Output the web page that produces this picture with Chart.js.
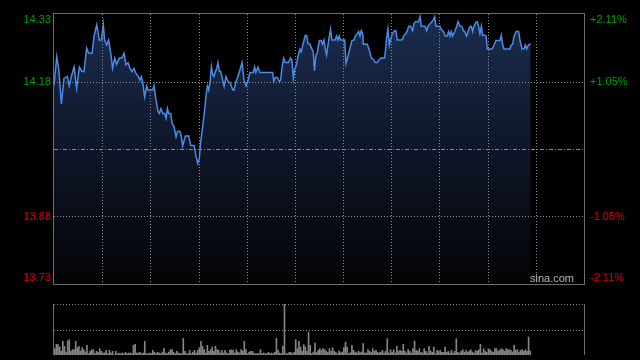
<!DOCTYPE html>
<html>
<head>
<meta charset="utf-8">
<script src="https://cdn.jsdelivr.net/npm/chart.js@4"></script>
<style>
  html, body { margin: 0; padding: 0; background: #000; }
  #wrap { position: relative; width: 640px; height: 360px; }
  canvas { position: absolute; left: 0; }
</style>
</head>
<body>
<div id="wrap">
  <canvas id="priceChart" width="640" height="290" style="top:0"></canvas>
  <canvas id="volChart" width="640" height="70" style="top:290px"></canvas>
</div>
<script>
// intraday minutes since open (HK session, 330 min) and prices
const priceTimes = [
  0, 1.7, 2.9, 4.6, 6.2, 8.3, 9.5, 10.8, 12.5, 14.1, 15.8, 17.4, 18.7, 20.3, 21.6, 23.7, 24.9, 26.6, 28.2, 29.5,
  30.7, 31.5, 32.8, 34.0, 35.3, 36.5, 37.8, 39.0, 40.7, 42.3, 43.6, 44.8, 46.1, 47.3, 48.6, 49.8, 51.0, 52.3, 53.5, 54.4,
  55.2, 56.4, 57.7, 58.5,
  59.8, 61.5, 62.3, 63.5, 64.8, 65.6, 66.6, 67.7, 68.9, 69.8, 70.6, 71.4, 72.7, 73.5, 74.7, 76.0, 76.8, 78.5, 79.3, 80.1,
  81.8, 83.9, 85.1, 87.2, 88.4, 89.5, 90.5, 91.3, 92.6, 93.8, 94.7, 95.5, 96.3, 97.2, 98.0, 98.8, 99.6, 100.5, 101.3, 102.1,
  103.0, 103.8, 105.0, 105.9, 107.1, 108.4, 109.6, 110.4, 111.3, 112.1, 113.3, 114.6, 115.8, 117.1, 118.3,
  119.5, 120.7, 122.0, 124.1, 124.9, 125.7, 127.0, 128.2, 136.1, 136.9, 137.8, 139.0, 140.3, 141.1, 141.9, 143.0, 144.0, 146.1, 147.3, 148.1,
  149.0, 149.8, 150.6, 151.9, 153.1, 153.9, 155.2, 156.4, 157.3, 158.1, 159.3, 160.6, 161.4, 162.2, 163.1, 163.9, 165.2, 166.4, 167.2, 168.1,
  168.9, 169.7, 171.0, 172.2, 173.0, 174.3, 175.1, 175.9, 176.8, 177.6, 178.4,
  179.3, 181.0, 181.8, 183.0, 184.3, 185.5, 186.8, 187.6, 188.8, 189.7, 190.5, 191.3, 192.2, 192.6, 194.2, 195.1, 196.3, 197.6, 198.8, 200.1,
  201.3, 202.5, 203.8, 205.9, 207.1, 207.9, 208.8, 209.6, 210.8, 212.1, 212.9, 213.7, 215.0, 216.2, 217.1, 217.9, 219.1, 220.0, 220.8, 222.0,
  223.3, 224.1, 224.9, 226.2, 227.0, 227.9, 228.7, 229.9, 231.2, 232.0, 232.8, 234.1, 235.3, 236.2, 237.0, 237.8,
  239.1, 240.3, 241.2, 242.4, 243.7, 244.9, 245.7, 246.6, 247.4, 248.2, 249.5, 250.7, 251.5, 252.8, 254.0, 254.9, 255.7, 256.9, 258.2, 259.0,
  259.9, 260.7, 261.5, 262.8, 263.6, 264.4, 265.2, 266.1, 266.9, 268.2, 269.0, 269.8, 271.1, 272.7, 274.0, 275.2, 276.5, 277.7, 278.5, 279.4,
  280.2, 281.8, 283.9, 284.7, 285.6, 286.4, 287.7, 289.3, 290.1, 291.4, 292.6, 293.5, 294.3, 295.1, 296.0, 296.8
];
const prices = [
  14.172, 14.235, 14.209, 14.130, 14.187, 14.191, 14.170, 14.191, 14.212, 14.165, 14.212, 14.202, 14.202, 14.254, 14.243, 14.243, 14.280, 14.306, 14.272, 14.272,
  14.306, 14.272, 14.261, 14.272, 14.243, 14.209, 14.232, 14.218, 14.232, 14.232, 14.243, 14.217, 14.222, 14.209, 14.202, 14.209, 14.198, 14.192, 14.183, 14.191,
  14.180, 14.146, 14.170, 14.161,
  14.161, 14.161, 14.170, 14.139, 14.113, 14.109, 14.120, 14.109, 14.109, 14.098, 14.120, 14.109, 14.109, 14.087, 14.080, 14.057, 14.069, 14.069, 14.057, 14.037,
  14.059, 14.059, 14.038, 14.038, 14.014, 13.998, 14.009, 14.046, 14.080, 14.117, 14.150, 14.170, 14.161, 14.180, 14.213, 14.195, 14.191, 14.202, 14.209, 14.222,
  14.202, 14.202, 14.183, 14.169, 14.191, 14.180, 14.177, 14.170, 14.161, 14.161, 14.180, 14.191, 14.206, 14.222, 14.183,
  14.170, 14.180, 14.200, 14.200, 14.212, 14.200, 14.212, 14.200, 14.200, 14.180, 14.189, 14.189, 14.180, 14.183, 14.209, 14.232, 14.222, 14.222, 14.232, 14.228,
  14.187, 14.207, 14.212, 14.235, 14.252, 14.246, 14.265, 14.282, 14.282, 14.265, 14.263, 14.252, 14.246, 14.204, 14.239, 14.243, 14.271, 14.271, 14.263, 14.272,
  14.252, 14.239, 14.271, 14.296, 14.272, 14.272, 14.272, 14.281, 14.272, 14.281, 14.272,
  14.272, 14.272, 14.220, 14.235, 14.254, 14.271, 14.272, 14.281, 14.286, 14.291, 14.281, 14.293, 14.286, 14.263, 14.263, 14.263, 14.250, 14.232, 14.229, 14.222,
  14.222, 14.229, 14.232, 14.232, 14.276, 14.296, 14.261, 14.274, 14.287, 14.293, 14.293, 14.272, 14.272, 14.272, 14.274, 14.283, 14.286, 14.293, 14.303, 14.303,
  14.293, 14.308, 14.313, 14.313, 14.313, 14.324, 14.303, 14.303, 14.302, 14.293, 14.302, 14.308, 14.313, 14.317, 14.324, 14.303,
  14.303, 14.303, 14.295, 14.291, 14.281, 14.281, 14.291, 14.281, 14.291, 14.281, 14.291, 14.302, 14.313, 14.303, 14.302, 14.293, 14.291, 14.281, 14.295, 14.302,
  14.302, 14.291, 14.303, 14.312, 14.313, 14.302, 14.286, 14.303, 14.283, 14.283, 14.281, 14.252, 14.252, 14.252, 14.261, 14.271, 14.271, 14.271, 14.283, 14.261,
  14.252, 14.252, 14.252, 14.261, 14.263, 14.280, 14.291, 14.291, 14.272, 14.252, 14.252, 14.261, 14.252, 14.259, 14.263, 14.263
];

// per-minute volume (relative units)
const volumes = [
  63, 107, 103, 80, 40, 137, 87, 30, 140, 153, 40, 53, 53, 137, 73, 87, 40, 73, 53, 30,
  97, 13, 40, 53, 53, 13, 37, 23, 63, 37, 20, 23, 47, 13, 47, 20, 37, 3, 37, 13,
  20, 13, 20, 10, 27, 13, 20, 20, 13, 97, 107, 20, 20, 27, 13, 20, 137, 13, 13, 20,
  13, 47, 27, 13, 27, 20, 13, 30, 67, 20, 13, 30, 53, 53, 27, 13, 37, 20, 13, 13,
  167, 37, 13, 13, 47, 13, 30, 47, 20, 47, 73, 137, 87, 53, 20, 97, 37, 53, 80, 37,
  87, 53, 47, 20, 47, 20, 47, 20, 13, 47, 53, 47, 20, 53, 30, 20, 53, 40, 137, 53,
  13, 30, 37, 37, 20, 13, 13, 13, 53, 13, 20, 13, 13, 27, 13, 20, 13, 27, 167, 47,
  20, 13, 87, 600, 13, 13, 27, 27, 13, 27, 153, 63, 137, 80, 40, 103, 80, 37, 227, 97,
  13, 30, 120, 27, 47, 63, 47, 63, 53, 37, 23, 63, 37, 73, 37, 23, 13, 40, 23, 30,
  73, 130, 80, 13, 23, 97, 47, 30, 20, 37, 23, 30, 113, 20, 20, 53, 37, 23, 63, 37,
  47, 27, 20, 30, 47, 20, 37, 163, 20, 53, 30, 53, 20, 87, 37, 47, 37, 107, 37, 20,
  53, 37, 20, 63, 140, 47, 37, 63, 27, 20, 63, 37, 20, 87, 40, 27, 80, 13, 47, 37,
  47, 27, 27, 80, 27, 37, 20, 47, 20, 37, 163, 27, 20, 37, 53, 27, 47, 27, 37, 53,
  30, 20, 47, 37, 53, 107, 20, 63, 37, 27, 63, 53, 37, 27, 63, 63, 37, 47, 63, 53,
  37, 63, 53, 53, 47, 30, 97, 47, 53, 30, 47, 53, 37, 53, 40, 180, 40
];

const sessionMinutes = 330;
const timeGridMinutes = [30, 60, 90, 120, 150, 180, 210, 240, 270, 300];
const prevClose = 14.03;
const priceMin = 13.73;
const priceMax = 14.33;
const priceTicks = [14.33, 14.18, 13.88, 13.73];
const pctLabels = ['+2.11%', '+1.05%', '-1.05%', '-2.11%'];
const volMax = 510;

const GRID = '#8e8e8e';
const FRAME = '#6e6e6e';
const UP = '#00a000';
const DOWN = '#e00000';

function hLine(ctx, y, x1, x2, dash, color) {
  ctx.save();
  ctx.strokeStyle = color;
  ctx.lineWidth = 1;
  ctx.setLineDash(dash);
  const yy = Math.round(y) + 0.5;
  ctx.beginPath(); ctx.moveTo(x1, yy); ctx.lineTo(x2, yy); ctx.stroke();
  ctx.restore();
}
function vLine(ctx, x, y1, y2, dash, color) {
  ctx.save();
  ctx.strokeStyle = color;
  ctx.lineWidth = 1;
  ctx.setLineDash(dash);
  const xx = Math.round(x) + 0.5;
  ctx.beginPath(); ctx.moveTo(xx, y1); ctx.lineTo(xx, y2); ctx.stroke();
  ctx.restore();
}

const priceFrame = {
  id: 'priceFrame',
  afterDatasetsDraw(chart) {
    const { ctx, chartArea: a, scales: { x, y } } = chart;
    timeGridMinutes.forEach(m => vLine(ctx, x.getPixelForValue(m), a.top, a.bottom, [1, 2], GRID));
    priceTicks.forEach(v => {
      if (v !== priceMax && v !== priceMin) hLine(ctx, y.getPixelForValue(v), a.left, a.right, [1, 2], GRID);
    });
    hLine(ctx, y.getPixelForValue(prevClose), a.left, a.right, [4, 2, 1, 2], GRID);

    // frame
    ctx.save();
    ctx.strokeStyle = FRAME;
    ctx.lineWidth = 1;
    ctx.strokeRect(Math.round(a.left) - 0.5, Math.round(a.top) - 0.5, Math.round(a.right - a.left) + 1, Math.round(a.bottom - a.top) + 1);
    ctx.restore();

    // axis labels
    ctx.save();
    ctx.font = '11px "Liberation Sans", Arial, sans-serif';
    ctx.textBaseline = 'middle';
    priceTicks.forEach((v, i) => {
      let py = y.getPixelForValue(v);
      py = Math.min(Math.max(py, a.top + 6), a.bottom - 6);
      ctx.fillStyle = v > prevClose ? UP : DOWN;
      ctx.textAlign = 'right';
      ctx.fillText(v.toFixed(2), a.left - 3, py);
      ctx.textAlign = 'left';
      ctx.fillText(pctLabels[i], a.right + 6, py);
    });
    ctx.fillStyle = '#b8b8b8';
    ctx.textAlign = 'right';
    ctx.fillText('sina.com', a.right - 10, a.bottom - 5);
    ctx.restore();
  }
};

new Chart(document.getElementById('priceChart'), {
  type: 'line',
  data: {
    datasets: [{
      data: priceTimes.map((t, i) => ({ x: t, y: prices[i] })),
      borderColor: '#4b8be8',
      borderWidth: 1.5,
      pointRadius: 0,
      tension: 0,
      fill: 'start',
      backgroundColor: (c) => {
        const a = c.chart.chartArea;
        if (!a) return 'rgba(20,34,60,1)';
        const g = c.chart.ctx.createLinearGradient(0, a.top, 0, a.bottom);
        g.addColorStop(0, '#1b2d50');
        g.addColorStop(0.5, '#0e1628');
        g.addColorStop(1, '#030405');
        return g;
      }
    }]
  },
  options: {
    responsive: false,
    animation: false,
    devicePixelRatio: 1,
    layout: { padding: { left: 54, right: 56, top: 14, bottom: 6 } },
    plugins: { legend: { display: false }, tooltip: { enabled: false } },
    scales: {
      x: { type: 'linear', min: 0, max: sessionMinutes, display: false },
      y: { min: priceMin, max: priceMax, display: false }
    }
  },
  plugins: [priceFrame]
});

const volFrame = {
  id: 'volFrame',
  beforeDatasetsDraw(chart) {
    const { ctx, chartArea: a, scales: { y } } = chart;
    hLine(ctx, a.top, a.left, a.right, [1, 2], GRID);
    hLine(ctx, y.getPixelForValue(volMax / 2), a.left, a.right, [1, 2], GRID);
    vLine(ctx, a.left - 1, a.top, a.bottom, [], FRAME);
    vLine(ctx, a.right, a.top, a.bottom, [], FRAME);
  }
};

new Chart(document.getElementById('volChart'), {
  type: 'bar',
  data: {
    labels: Array.from({ length: sessionMinutes }, (_, i) => i),
    datasets: [{
      data: volumes,
      backgroundColor: '#858585',
      barThickness: 1,
      borderWidth: 0
    }]
  },
  options: {
    responsive: false,
    animation: false,
    devicePixelRatio: 1,
    layout: { padding: { left: 54, right: 56, top: 14, bottom: 5 } },
    plugins: { legend: { display: false }, tooltip: { enabled: false } },
    scales: {
      x: { display: false },
      y: { min: 0, max: volMax, display: false }
    }
  },
  plugins: [volFrame]
});
</script>
</body>
</html>
